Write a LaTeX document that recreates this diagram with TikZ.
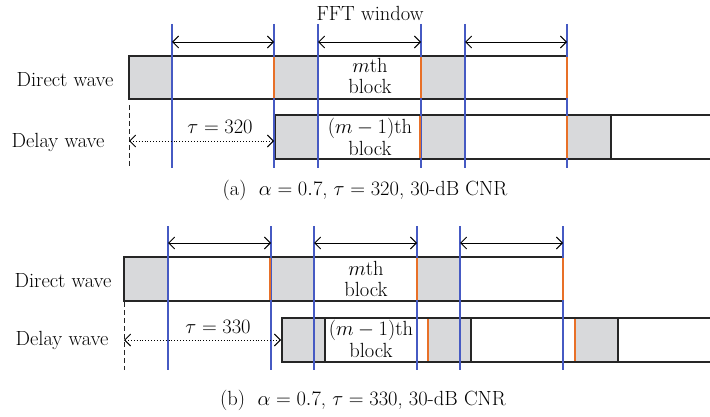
\RequirePackage{fix-cm}
\documentclass[tikz,border=0pt]{standalone}
\usepackage{fontspec}
\usepackage{xcolor}
\usepackage{tikz}
\usetikzlibrary{arrows.meta}

\definecolor{winblue}{RGB}{70,90,195}
\definecolor{edgeorange}{RGB}{232,112,40}
\definecolor{guardgray}{RGB}{216,217,219}

\tikzset{
  win/.style={winblue,line width=1.1pt},
  edge/.style={edgeorange,line width=2.6pt},
  frame/.style={black!85,line width=1.2pt},
  guard/.style={fill=guardgray},
  span/.style={{Straight Barb[length=6pt,width=12pt]}-{Straight Barb[length=6pt,width=12pt]},line width=0.9pt},
  delayspan/.style={span,dotted,line width=0.9pt},
  lbl/.style={font=\fontsize{20.5}{21.5}\selectfont,align=center,inner sep=0pt},
}

\begin{document}
\begin{tikzpicture}[x=1pt,y=-1pt]
    \useasboundingbox (0,0) rectangle (710,417);
    \fill[white] (0,0) rectangle (710,417);

    % (a) direct wave
    \foreach \a/\b in {129/172, 274/318, 421/465}
    \fill[guard] (\a,56) rectangle (\b,99);
    \draw[frame] (567,56) -- (129,56) -- (129,99) -- (567,99);
    % (a) delay wave
    \foreach \a/\b in {275/318, 421/465, 567/611}
    \fill[guard] (\a,115) rectangle (\b,159);
    \draw[frame] (710,115) -- (275,115) -- (275,159) -- (710,159);
    \draw[frame] (611,115) -- (611,159);
    % (a) FFT windows
    \foreach \x in {172,274,318,421,465,567}
    \draw[win] (\x,24) -- (\x,168);
    \foreach \x in {274,421,567}
    \draw[edge] (\x,57) -- (\x,98);
    \foreach \x in {420,567}
    \draw[edge] (\x,116) -- (\x,158);
    \foreach \a/\b in {172/274, 318/421, 465/567}
    \draw[span] (\a,42) -- (\b,42);
    \draw[black!85,line width=1pt,dash pattern=on 5pt off 3pt] (129,105) -- (129,168);
    \coordinate (a0) at (129,141);
    \coordinate (a1) at (274,141);
    \draw[delayspan] (a0) -- (a1);

    \node[lbl] (fftwin) at (370,13) {FFT window};
    \node[lbl] (adir) at (65,80) {Direct wave};
    \node[lbl] (adel) at (58,142) {Delay wave};
    \node[lbl] (atau) at (220,127) {$\tau = 320$};
    \node[lbl] (amblk) at (370,76) {$m$th\\block};
    \node[lbl] (aprev) at (370,137) {$(m-1)$th\\block};
    \node[lbl] (acap) at (365,190) {(a)\ \ $\alpha = 0.7$, $\tau = 320$, 30-dB CNR};

    % (b) direct wave
    \foreach \a/\b in {124/168, 270/314, 417/460}
    \fill[guard] (\a,257) rectangle (\b,301);
    \draw[frame] (563,257) -- (124,257) -- (124,301) -- (563,301);
    % (b) delay wave
    \foreach \a/\b in {282/325, 428/471, 575/618}
    \fill[guard] (\a,318) rectangle (\b,362);
    \draw[frame] (710,318) -- (282,318) -- (282,362) -- (710,362);
    \foreach \x in {325,471,618}
    \draw[frame] (\x,318) -- (\x,362);
    % (b) FFT windows
    \foreach \x in {168,271,314,417,460,563}
    \draw[win] (\x,226) -- (\x,370);
    \foreach \x in {270,417,563}
    \draw[edge] (\x,258) -- (\x,300);
    \foreach \x in {428,575}
    \draw[edge] (\x,319) -- (\x,361);
    \foreach \a/\b in {168/271, 314/417, 460/563}
    \draw[span] (\a,243) -- (\b,243);
    \draw[black!85,line width=1pt,dash pattern=on 5pt off 3pt] (124,302) -- (124,370);
    \coordinate (b0) at (124,340);
    \coordinate (b1) at (281,340);
    \draw[delayspan] (b0) -- (b1);

    \node[lbl] (bdir) at (63,281) {Direct wave};
    \node[lbl] (bdel) at (62,340) {Delay wave};
    \node[lbl] (btau) at (218,327) {$\tau = 330$};
    \node[lbl] (bmblk) at (366,279) {$m$th\\block};
    \node[lbl] (bprev) at (371,339) {$(m-1)$th\\block};
    \node[lbl] (bcap) at (363,400) {(b)\ \ $\alpha = 0.7$, $\tau = 330$, 30-dB CNR};
\end{tikzpicture}
\end{document}
